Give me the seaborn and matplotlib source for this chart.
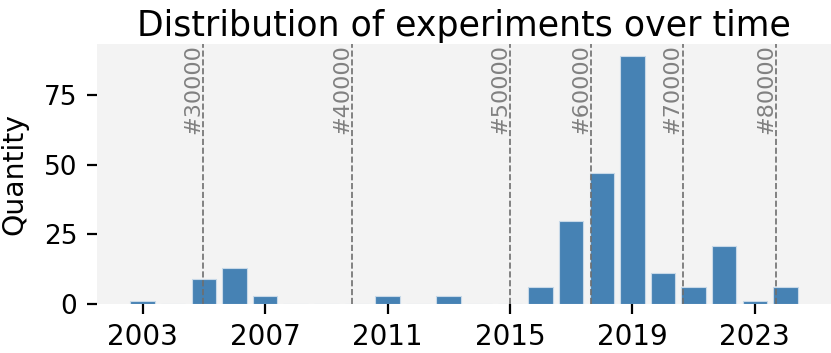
import pandas as pd
import seaborn as sns
import matplotlib.pyplot as plt

years = list(range(2003, 2025))
counts = [1, 0, 9, 13, 3, 0, 0, 0, 3, 0, 3, 0, 0, 6, 30, 47, 89, 11, 6, 21, 1, 6]
milestones = ["#30000", "#40000", "#50000", "#60000", "#70000", "#80000"]
# position of each milestone on the bar axis (bar index, fractional)
milestone_pos = [1.98, 6.85, 12.0, 14.66, 17.64, 20.69]

sns.set_style("white", {
    "axes.facecolor": "#f3f3f3",
    "xtick.bottom": True,
    "ytick.left": True,
    "text.color": "black",
    "axes.labelcolor": "black",
    "xtick.color": "black",
    "ytick.color": "black",
})
plt.rcParams["font.family"] = ["DejaVu Sans"]

df = pd.DataFrame({"Year": years, "Quantity": counts})

fig = plt.figure(figsize=(831 / 200, 353 / 200), dpi=200)
ax = fig.add_axes([0.1164, 0.1388, 0.884, 0.7365])

sns.barplot(data=df, x="Year", y="Quantity", color="#4682b4",
            saturation=1, edgecolor="#c8d9e8", linewidth=0.4, ax=ax)

ax.set_xlim(-1.5, 22.5)
ax.set_ylim(0, 93.45)
ax.set_xticks(range(0, len(years), 4))
ax.set_xticklabels(years[::4], fontsize=10)
ax.set_yticks([0, 25, 50, 75])
ax.tick_params(axis="y", labelsize=9.5)

for pos, lab in zip(milestone_pos, milestones):
    ax.axvline(pos, color="#6e6e6e", ls="--", lw=0.6)
    ax.text(pos, 93.45, lab, rotation=90, ha="right", va="top",
            color="gray", fontsize=8)

sns.despine(left=True, bottom=True)
ax.set_xlabel("")
ax.set_ylabel("Quantity", fontsize=10.2, labelpad=5.5)
ax.set_title("Distribution of experiments over time", fontsize=12.5, pad=3)

fig.savefig("out.png", dpi=200)
plt.close()
